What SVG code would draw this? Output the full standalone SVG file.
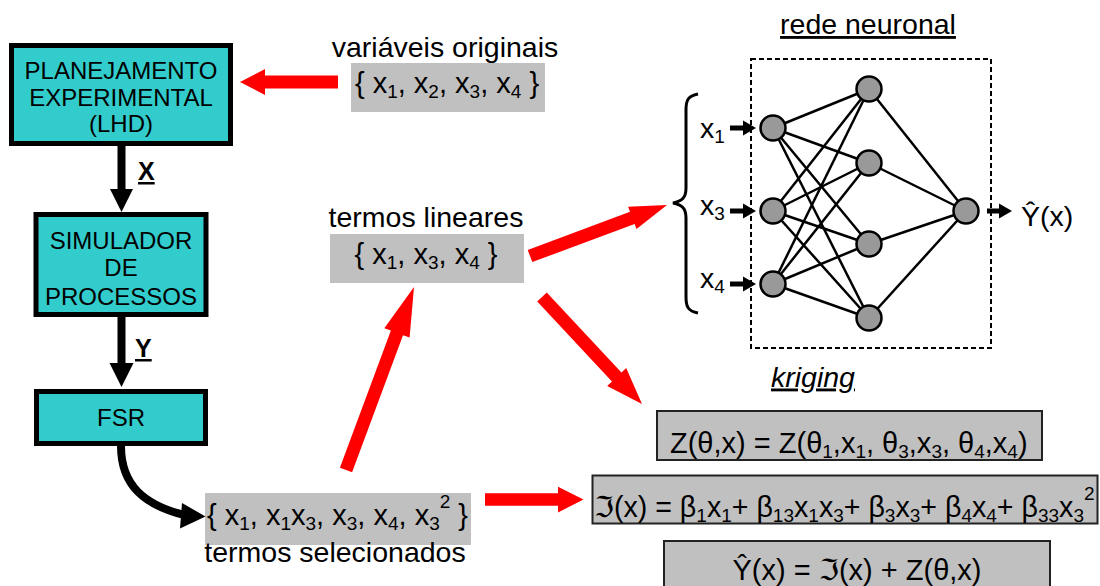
<svg xmlns="http://www.w3.org/2000/svg" width="1100" height="586" viewBox="0 0 1100 586">
  <style>
    text { font-family: "Liberation Sans", Arial, "DejaVu Sans", sans-serif; fill: #000; }
    .box { fill: #33CCCC; stroke: #000; stroke-width: 5; }
    .bt { font-size: 24px; text-anchor: middle; }
    .lab { font-size: 28.5px; }
    .f { font-size: 29px; }
    .s { font-size: 19px; }
    .gray { fill: #C0C0C0; }
    .kbox { fill: #C0C0C0; stroke: #222; stroke-width: 2; }
    .red { fill: #FF0000; }
    .edge { stroke: #000; stroke-width: 2.5; }
    .neuron { fill: #999999; stroke: #000; stroke-width: 2.5; }
    .bold { font-size: 25px; font-weight: bold; text-decoration: underline; }
  </style>

  <!-- flowchart blocks -->
  <g id="planejamento">
    <rect class="box" x="11.5" y="45.5" width="219" height="98"/>
    <text class="bt" x="121" y="79">PLANEJAMENTO</text>
    <text class="bt" x="121" y="106">EXPERIMENTAL</text>
    <text class="bt" x="121" y="131.5">(LHD)</text>
  </g>
  <g id="simulador">
    <rect class="box" x="36" y="214.5" width="170" height="100"/>
    <text class="bt" x="121" y="248.5">SIMULADOR</text>
    <text class="bt" x="121" y="276">DE</text>
    <text class="bt" x="121" y="304.5">PROCESSOS</text>
  </g>
  <g id="fsr">
    <rect class="box" x="36.5" y="391.5" width="169" height="52"/>
    <text class="bt" x="121" y="426">FSR</text>
  </g>

  <!-- term sets -->
  <g id="variaveis-originais">
    <text class="lab" x="445" y="57" text-anchor="middle">variáveis originais</text>
    <rect class="gray" x="351" y="63" width="194" height="49"/>
    <text class="f" x="447" y="93" text-anchor="middle">{ x<tspan class="s" dy="5">1</tspan><tspan dy="-5">, x</tspan><tspan class="s" dy="5">2</tspan><tspan dy="-5">, x</tspan><tspan class="s" dy="5">3</tspan><tspan dy="-5">, x</tspan><tspan class="s" dy="5">4</tspan><tspan dy="-5"> }</tspan></text>
  </g>
  <g id="termos-lineares">
    <text class="lab" x="426" y="226.5" text-anchor="middle">termos lineares</text>
    <rect class="gray" x="330" y="234" width="194" height="49"/>
    <text class="f" x="426" y="264" text-anchor="middle">{ x<tspan class="s" dy="5">1</tspan><tspan dy="-5">, x</tspan><tspan class="s" dy="5">3</tspan><tspan dy="-5">, x</tspan><tspan class="s" dy="5">4</tspan><tspan dy="-5"> }</tspan></text>
  </g>
  <g id="termos-selecionados">
    <rect class="gray" x="205" y="493" width="266" height="52"/>
    <text class="f" x="207" y="525">{ x<tspan class="s" dy="5">1</tspan><tspan dy="-5">, x</tspan><tspan class="s" dy="5">1</tspan><tspan dy="-5">x</tspan><tspan class="s" dy="5">3</tspan><tspan dy="-5">, x</tspan><tspan class="s" dy="5">3</tspan><tspan dy="-5">, x</tspan><tspan class="s" dy="5">4</tspan><tspan dy="-5">, x</tspan><tspan class="s" dy="5">3</tspan><tspan class="s" dy="-22">2</tspan><tspan dy="17"> }</tspan></text>
    <text class="lab" x="335" y="561.5" text-anchor="middle">termos selecionados</text>
  </g>

  <!-- neural network -->
  <g id="rede-neuronal">
    <text class="lab" x="868" y="34" text-anchor="middle" text-decoration="underline">rede neuronal</text>
    <rect x="751" y="59" width="240" height="289" fill="none" stroke="#000" stroke-width="2" stroke-dasharray="5,3"/>
    <path d="M698,94 C688,96 686,100 686,110 L686,188 C686,198 682,201 673,203 C682,205 686,208 686,218 L686,297 C686,307 688,311 698,313" fill="none" stroke="#000" stroke-width="3"/>
    <g class="edge">
      <line x1="773" y1="128" x2="869" y2="89"/>
      <line x1="773" y1="128" x2="869" y2="163"/>
      <line x1="773" y1="128" x2="869" y2="244"/>
      <line x1="773" y1="128" x2="869" y2="318"/>
      <line x1="773" y1="211" x2="869" y2="89"/>
      <line x1="773" y1="211" x2="869" y2="163"/>
      <line x1="773" y1="211" x2="869" y2="244"/>
      <line x1="773" y1="211" x2="869" y2="318"/>
      <line x1="773" y1="284" x2="869" y2="89"/>
      <line x1="773" y1="284" x2="869" y2="163"/>
      <line x1="773" y1="284" x2="869" y2="244"/>
      <line x1="773" y1="284" x2="869" y2="318"/>
      <line x1="869" y1="89" x2="966" y2="211"/>
      <line x1="869" y1="163" x2="966" y2="211"/>
      <line x1="869" y1="244" x2="966" y2="211"/>
      <line x1="869" y1="318" x2="966" y2="211"/>
    </g>
    <circle class="neuron" cx="773" cy="128" r="12.5"/>
    <circle class="neuron" cx="773" cy="211" r="12.5"/>
    <circle class="neuron" cx="773" cy="284" r="12.5"/>
    <circle class="neuron" cx="869" cy="89" r="12.5"/>
    <circle class="neuron" cx="869" cy="163" r="12.5"/>
    <circle class="neuron" cx="869" cy="244" r="12.5"/>
    <circle class="neuron" cx="869" cy="318" r="12.5"/>
    <circle class="neuron" cx="966" cy="211" r="12.5"/>
    <text class="lab" x="700" y="138">x<tspan class="s" dy="5">1</tspan></text>
    <text class="lab" x="700" y="215">x<tspan class="s" dy="5">3</tspan></text>
    <text class="lab" x="700" y="288">x<tspan class="s" dy="5">4</tspan></text>
    <text class="lab" x="1021" y="226">Ŷ(x)</text>
  </g>

  <!-- kriging -->
  <g id="kriging">
    <text class="lab" x="813" y="386.5" text-anchor="middle" font-style="italic" text-decoration="underline">kriging</text>
  </g>
  <g id="z-theta">
    <rect class="kbox" x="657" y="411" width="385" height="49"/>
    <text class="f" x="670" y="453">Z(θ,x) = Z(θ<tspan class="s" dy="5">1</tspan><tspan dy="-5">,x</tspan><tspan class="s" dy="5">1</tspan><tspan dy="-5">, θ</tspan><tspan class="s" dy="5">3</tspan><tspan dy="-5">,x</tspan><tspan class="s" dy="5">3</tspan><tspan dy="-5">, θ</tspan><tspan class="s" dy="5">4</tspan><tspan dy="-5">,x</tspan><tspan class="s" dy="5">4</tspan><tspan dy="-5">)</tspan></text>
  </g>
  <g id="regressao">
    <rect class="kbox" x="592.5" y="475.5" width="505" height="48"/>
    <text class="f" x="594" y="517" style="font-size:28.6px">ℑ(x) = β<tspan class="s" dy="5">1</tspan><tspan dy="-5">x</tspan><tspan class="s" dy="5">1</tspan><tspan dy="-5">+ β</tspan><tspan class="s" dy="5">13</tspan><tspan dy="-5">x</tspan><tspan class="s" dy="5">1</tspan><tspan dy="-5">x</tspan><tspan class="s" dy="5">3</tspan><tspan dy="-5">+ β</tspan><tspan class="s" dy="5">3</tspan><tspan dy="-5">x</tspan><tspan class="s" dy="5">3</tspan><tspan dy="-5">+ β</tspan><tspan class="s" dy="5">4</tspan><tspan dy="-5">x</tspan><tspan class="s" dy="5">4</tspan><tspan dy="-5">+ β</tspan><tspan class="s" dy="5">33</tspan><tspan dy="-5">x</tspan><tspan class="s" dy="5">3</tspan><tspan class="s" dy="-22">2</tspan></text>
  </g>
  <g id="preditor">
    <rect class="kbox" x="664" y="541" width="386" height="60"/>
    <text class="f" x="857" y="580" text-anchor="middle">Ŷ(x) = ℑ(x) + Z(θ,x)</text>
  </g>

  <!-- connectors -->
  <g id="connectors">
    <!-- black flow arrows -->
    <line x1="121.5" y1="146" x2="121.5" y2="190" stroke="#000" stroke-width="8"/>
    <polygon points="110,189 133,189 121.5,212" fill="#000"/>
    <text class="bold" x="138" y="180">X</text>
    <line x1="121.5" y1="317" x2="121.5" y2="364" stroke="#000" stroke-width="8"/>
    <polygon points="109.5,363 133.5,363 121.5,387" fill="#000"/>
    <text class="bold" x="135" y="357">Y</text>
    <path d="M121,446 C121,486 145,505 184,515" fill="none" stroke="#000" stroke-width="8"/>
    <polygon points="182,503 205.5,516.5 180,528.5" fill="#000"/>

    <!-- small arrows of the network -->
    <line x1="730" y1="128" x2="745" y2="128" stroke="#000" stroke-width="5"/>
    <polygon points="743,120.5 756,128 743,135.5" fill="#000"/>
    <line x1="730" y1="211" x2="745" y2="211" stroke="#000" stroke-width="5"/>
    <polygon points="743,203.5 756,211 743,218.5" fill="#000"/>
    <line x1="730" y1="284" x2="745" y2="284" stroke="#000" stroke-width="5"/>
    <polygon points="743,276.5 756,284 743,291.5" fill="#000"/>
    <line x1="987" y1="211" x2="1001" y2="211" stroke="#000" stroke-width="5"/>
    <polygon points="999,203.5 1012,211 999,218.5" fill="#000"/>

    <!-- red block arrows -->
    <polygon class="red" points="338,75.5 265,75.5 265,69 240,82 265,95 265,88.5 338,88.5"/>
    <polygon class="red" points="527.7,249.9 630,211.8 628.1,206.7 667,205 636.5,229.1 634.6,224 532.3,262.1"/>
    <polygon class="red" points="546.75,292.56 621.45,372.56 626.2,368.1 642,404 607.2,385.9 611.95,381.44 537.25,301.44"/>
    <polygon class="red" points="339.9,467.7 390.9,330.6 384.3,328.2 414,287 409.6,337.6 403,335.2 352.1,472.3"/>
    <polygon class="red" points="485,493.3 558,493.3 558,486.7 583.5,499.5 558,512.5 558,505.7 485,505.7"/>
  </g>
</svg>
